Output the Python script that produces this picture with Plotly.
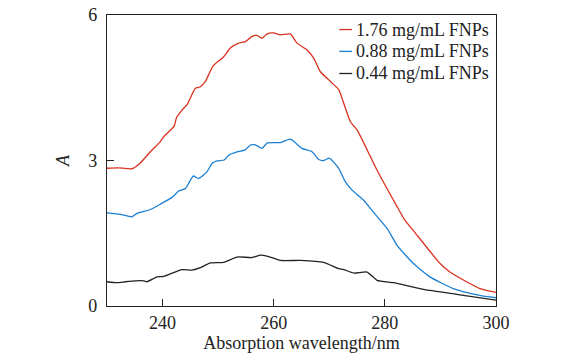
import plotly.graph_objects as go

# Red: 1.76 mg/mL
x_red = [230, 232, 234.5, 236, 237.8, 239.6, 240.2, 242.1, 242.5, 243.5, 244.4, 245.9, 246.8, 247.7,
         249.1, 251.0, 252.2, 253.7, 254.9, 256.1, 257.0, 257.9, 258.8, 260.0, 261.2, 263.0, 264.2,
         266.0, 267.2, 268.4, 270.2, 271.7, 272.6, 273.8, 275.0, 277.4, 278.6, 282.2, 283.6, 285.1,
         289.9, 291.7, 294.7, 297.1, 300]
y_red = [2.84, 2.85, 2.83, 2.95, 3.18, 3.39, 3.49, 3.71, 3.88, 4.04, 4.15, 4.49, 4.52, 4.63,
         4.95, 5.14, 5.32, 5.42, 5.45, 5.56, 5.58, 5.52, 5.61, 5.63, 5.59, 5.61, 5.42,
         5.28, 5.11, 4.83, 4.63, 4.46, 4.18, 3.80, 3.63, 3.08, 2.80, 2.05, 1.77, 1.56,
         0.88, 0.70, 0.50, 0.36, 0.28]

# Blue: 0.88 mg/mL
x_blue = [230, 232.4, 234.5, 235.4, 237.8, 239.6, 241.7, 242.9, 244.1, 244.7, 245.5, 246.5, 248.0,
          248.9, 249.8, 251.1, 251.9, 253.4, 254.9, 255.8, 256.7, 257.9, 258.8, 261.2, 263.0, 265.1,
          266.9, 268.1, 269.0, 270.0, 271.7, 272.9, 274.1, 276.2, 277.9, 280.4, 282.2, 285.1, 288.1,
          292.3, 297.1, 300]
y_blue = [1.92, 1.89, 1.84, 1.91, 1.99, 2.10, 2.24, 2.37, 2.42, 2.53, 2.68, 2.63, 2.77,
          2.94, 2.99, 3.01, 3.11, 3.18, 3.22, 3.32, 3.32, 3.25, 3.36, 3.37, 3.44, 3.25,
          3.18, 3.02, 3.00, 3.05, 2.84, 2.56, 2.39, 2.18, 1.94, 1.60, 1.25, 0.88, 0.60,
          0.36, 0.22, 0.17]

# Black: 0.44 mg/mL
x_black = [230, 231.8, 233.3, 235.1, 236.6, 237.2, 239.0, 240.2, 243.5, 245.3, 246.8, 248.6, 251.0,
           253.4, 256.1, 257.6, 258.8, 261.2, 264.8, 269.0, 271.7, 272.6, 274.4, 276.8, 278.6,
           281.6, 285.1, 288.1, 292.9, 300]
y_black = [0.50, 0.48, 0.50, 0.52, 0.52, 0.50, 0.60, 0.61, 0.75, 0.74, 0.79, 0.89, 0.90,
           1.01, 1.00, 1.05, 1.03, 0.94, 0.94, 0.90, 0.77, 0.75, 0.68, 0.70, 0.53,
           0.48, 0.39, 0.32, 0.24, 0.12]

names = ["1.76 mg/mL FNPs", "0.88 mg/mL FNPs", "0.44 mg/mL FNPs"]
colors = ["#d9321f", "#1a7fd2", "#222222"]
x_ticks = [240, 260, 280, 300]
y_ticks = [0, 3, 6]

FONT = "Liberation Serif, Times New Roman, serif"

fig = go.Figure()
for xs, ys, nm, c in zip([x_red, x_blue, x_black], [y_red, y_blue, y_black], names, colors):
    fig.add_trace(go.Scatter(x=xs, y=ys, mode="lines", name=nm, showlegend=False,
                             line=dict(color=c, width=1.3, shape="spline", smoothing=0.5)))

# custom legend (short line samples)
leg_y = [0.950, 0.875, 0.799]
for nm, c, ly in zip(names, colors, leg_y):
    fig.add_shape(type="line", xref="paper", yref="paper", x0=0.597, x1=0.630, y0=ly, y1=ly,
                  line=dict(color=c, width=1.3))
    fig.add_annotation(xref="paper", yref="paper", x=0.636, y=ly, text=nm, showarrow=False,
                       xanchor="left", yanchor="middle", font=dict(family=FONT, size=18, color="#222"))

fig.update_layout(
    width=565, height=363,
    margin=dict(l=107, r=69, t=15, b=57),
    paper_bgcolor="white", plot_bgcolor="white",
    font=dict(family=FONT, size=18, color="#222"),
)
fig.update_xaxes(range=[230, 300], tickvals=x_ticks, ticks="inside", ticklen=7, tickwidth=1.2,
                 tickcolor="#222", showline=True, linecolor="#222", linewidth=1.2, mirror=True,
                 showgrid=False, zeroline=False, automargin=False, ticklabeloverflow="allow",
                 title=dict(text="Absorption wavelength/nm", standoff=2, font=dict(size=18)))
fig.update_yaxes(range=[0, 6], tickvals=y_ticks, ticks="inside", ticklen=7, tickwidth=1.2,
                 tickcolor="#222", showline=True, linecolor="#222", linewidth=1.2, mirror=True,
                 showgrid=False, zeroline=False, automargin=False, ticklabeloverflow="allow",
                 ticklabelstandoff=5,
                 title=dict(text="<i>A</i>", standoff=13, font=dict(size=18, style="italic")))

fig.write_html("out.html", config={"displayModeBar": False},
               post_script="document.body.style.margin='0';")
